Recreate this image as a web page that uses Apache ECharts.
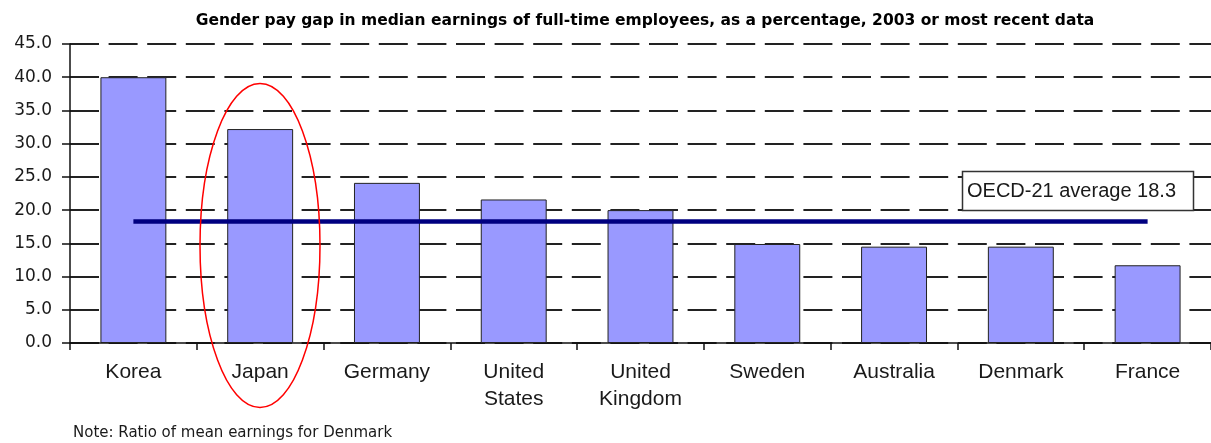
<!DOCTYPE html>
<html>
<head>
<meta charset="utf-8">
<script src="https://cdn.jsdelivr.net/npm/echarts@6/dist/echarts.min.js"></script>
<style>
html,body{margin:0;padding:0;background:#fff;}
#chart{width:1211px;height:443px;}
</style>
</head>
<body>
<div id="chart"></div>
<script>
const categories = ["Korea","Japan","Germany","United\nStates","United\nKingdom","Sweden","Australia","Denmark","France"];
const payGap = [40.0, 32.2, 24.1, 21.6, 20.0, 14.9, 14.5, 14.5, 11.7];
const oecdAverage = 18.3;
const averageLine = categories.map(() => oecdAverage);
const yTicks = {min: 0, max: 45, interval: 5};
const titleText = "Gender pay gap in median earnings of full-time employees, as a percentage, 2003 or most recent data";
const noteText = "Note: Ratio of mean earnings for Denmark";
const averageLabel = "OECD-21 average 18.3";

const chart = echarts.init(document.getElementById('chart'), null, {renderer: 'canvas'});
chart.setOption({
  animation: false,
  backgroundColor: '#ffffff',
  title: {
    text: titleText,
    left: 640,
    top: 8,
    textAlign: 'center',
    textStyle: {fontFamily: 'DejaVu Sans', fontWeight: 'bold', fontSize: 15.5, color: '#000'}
  },
  grid: {left: 70, right: 0, top: 44, bottom: 100, containLabel: false},
  xAxis: {
    type: 'category',
    data: categories,
    boundaryGap: true,
    axisLine: {lineStyle: {color: '#111', width: 1.5}},
    axisTick: {show: true, length: 7, lineStyle: {color: '#111', width: 1.5}},
    axisLabel: {
      interval: 0, margin: 16, fontFamily: 'Liberation Sans', fontSize: 21,
      lineHeight: 27, color: '#1a1a1a'
    },
    splitLine: {show: false}
  },
  yAxis: {
    type: 'value',
    min: yTicks.min, max: yTicks.max, interval: yTicks.interval,
    axisLine: {show: true, lineStyle: {color: '#111', width: 1.5}},
    axisTick: {show: true, length: 8, lineStyle: {color: '#111', width: 1.5}},
    axisLabel: {
      margin: 18, fontFamily: 'DejaVu Sans', fontSize: 17, color: '#1a1a1a',
      formatter: v => v.toFixed(1)
    },
    splitLine: {show: true, lineStyle: {color: '#222', width: 2, type: [29, 9.6]}}
  },
  series: [
    {
      type: 'bar',
      data: payGap,
      barWidth: '52%',
      itemStyle: {color: '#9999FF', borderColor: '#222', borderWidth: 1}
    },
    {
      type: 'line',
      data: averageLine,
      symbol: 'none',
      z: 5,
      lineStyle: {color: '#000080', width: 4.5}
    }
  ],
  graphic: [
    {
      type: 'ellipse',
      shape: {cx: 260, cy: 245.5, rx: 60, ry: 162},
      style: {fill: 'none', stroke: '#ff0000', lineWidth: 1.5},
      z: 100
    },
    {
      type: 'rect',
      shape: {x: 962.5, y: 171.5, width: 231, height: 39},
      style: {fill: '#ffffff', stroke: '#333', lineWidth: 1.5},
      z: 100
    },
    {
      type: 'text',
      x: 967, y: 191,
      style: {text: averageLabel, fontFamily: 'Liberation Sans', fontSize: 20, fill: '#1a1a1a', textVerticalAlign: 'middle'},
      z: 101
    },
    {
      type: 'text',
      x: 73, y: 433,
      style: {text: noteText, fontFamily: 'DejaVu Sans', fontSize: 15, fill: '#1a1a1a', textVerticalAlign: 'middle'},
      z: 101
    }
  ]
});
</script>
</body>
</html>
